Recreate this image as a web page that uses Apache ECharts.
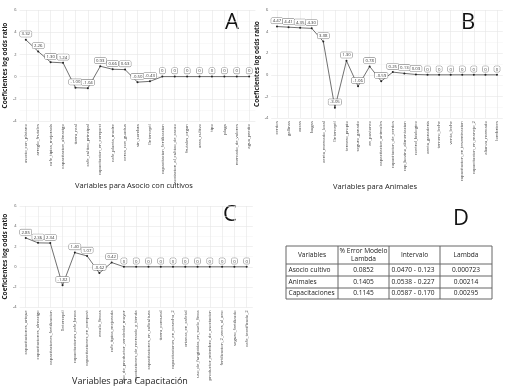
<!DOCTYPE html>
<html>
<head>
<meta charset="utf-8">
<script src="https://cdn.jsdelivr.net/npm/echarts@6/dist/echarts.min.js"></script>
<style>
html, body { margin: 0; padding: 0; background: #fff; }
#main { width: 511px; height: 386px; }
</style>
</head>
<body>
<div id="main"></div>
<script>
// A - asocio con cultivos
const catsA = ['asocio_con_platano', 'arreglo_frutales', 'cafe_tipica_mejorada', 'capacitacion_almacigo',
  'tierra_real', 'cafe_cultivo_principal', 'capacitacion_en_compost', 'cafe_planta_madre', 'cerca_con_guadua',
  'sin_sombra', '(Intercept)', 'capacitacion_fertilizacion', 'asociacion_al_cultivo_de_cacao', 'frutales_organ',
  'area_cultivo', 'tipo', 'plaga', 'mercado_de_valores', 'agua_predio'];
const valsA = [3.32, 2.26, 1.30, 1.24, -1.00, -1.04, 0.93, 0.66, 0.63, -0.50, -0.43, 0, 0, 0, 0, 0, 0, 0, 0];

// B - animales
const catsB = ['cerdos', 'gallinas', 'vacas', 'bagas', 'venta_mercado_local', '(Intercept)', 'ternero_propio',
  'seguro_ganado', 'en_pastoreo', 'capacitacion_animales', 'capacitacion_de_cerdos', 'cap_bovino_alimentacion',
  'control_biologico', 'venta_ganaderia', 'ternero_leche', 'venta_leche', 'capacitacion_en_inseminacion',
  'capacitacion_en_manejo_2', 'alianza_mercado', 'lombrices'];
const valsB = [4.47, 4.41, 4.35, 4.30, 3.08, -3.05, 1.30, -1.06, 0.78, -0.59, 0.25, 0.13, 0.03, 0, 0, 0, 0, 0, 0, 0];

// C - capacitacion
const catsC = ['capacitaciones_arique', 'capacitaciones_almacigo', 'capacitaciones_fertilizacion', '(Intercept)',
  'capacitaciones_cafe_broca', 'capacitaciones_en_compost', 'encalo_fincas', 'cafe_tipica_mejorada',
  'tipo_de_productor_vendedor_mayor', 'asociaciones_de_mercado_y_tienda', 'capacitaciones_en_caficultura',
  'tierra_comunal', 'capacitaciones_en_cosecha_2', 'crianza_en_cafetal', 'uso_de_fungicidas_en_suelo_finca',
  'productor_miembro_de_asociacion', 'fertilizacion_2_veces_al_ano', 'seguro_fertilizado', 'cafe_tecnificado_2'];
const valsC = [2.85, 2.36, 2.34, -1.82, 1.4, 1.07, -0.62, 0.42, 0, 0, 0, 0, 0, 0, 0, 0, 0, 0, 0];

const yTicks = [-4, 6];
const titles = ['Variables para Asocio con cultivos', 'Variables para Animales', 'Variables para Capacitación'];
const yName = 'Coeficientes log odds ratio';

// D - tabla
const tableHeader = ['Variables', '% Error Modelo\nLambda', 'Intervalo', 'Lambda'];
const tableVars = ['Asocio cultivo', 'Animales', 'Capacitaciones'];
const tableError = ['0.0852', '0.1405', '0.1145'];
const tableInterval = ['0.0470 - 0.123', '0.0538 - 0.227', '0.0587 - 0.170'];
const tableLambda = ['0.000723', '0.00214', '0.00295'];

const FONT = 'Open Sans';
const chart = echarts.init(document.getElementById('main'));

function xAx(idx, cats) {
  return {
    type: 'category', gridIndex: idx, data: cats, boundaryGap: true,
    axisLine: { show: false }, axisTick: { show: false },
    axisLabel: { rotate: 90, fontSize: 4.3, color: '#444', margin: 3, interval: 0, fontFamily: FONT },
    splitLine: { show: true, alignWithLabel: true, lineStyle: { color: '#e6e6e6', width: 0.6 } }
  };
}
function yAx(idx, gap) {
  return {
    type: 'value', gridIndex: idx, min: yTicks[0], max: yTicks[1], interval: 2,
    name: yName, nameLocation: 'middle', nameGap: gap, nameRotate: 90,
    nameTextStyle: { fontSize: 6.5, color: '#222', fontFamily: FONT, fontWeight: 'bold' },
    axisLine: { show: false }, axisTick: { show: false },
    axisLabel: { fontSize: 4, color: '#555', margin: 3, fontFamily: FONT },
    splitLine: { show: true, lineStyle: { color: '#e6e6e6', width: 0.6 } },
    minorTick: { show: false, splitNumber: 2 },
    minorSplitLine: { show: true, lineStyle: { color: '#f2f2f2', width: 0.5 } }
  };
}
function ser(idx, vals) {
  return {
    type: 'line', xAxisIndex: idx, yAxisIndex: idx, data: vals,
    symbol: 'circle', symbolSize: 2, itemStyle: { color: '#222' },
    lineStyle: { color: '#333', width: 0.7 }, animation: false,
    label: {
      show: true, position: 'top', distance: 2,
      formatter: p => (p.value === 0 ? '0' : p.value.toFixed(2)),
      fontSize: 4.3, color: '#333', fontFamily: FONT,
      backgroundColor: '#fff', borderColor: '#555', borderWidth: 0.4,
      borderRadius: 1, padding: [1, 1.5, 0.5, 1.5]
    }
  };
}

// table layout
const colX = [286, 338, 389, 440, 492];
const rowY = [246, 264, 276, 288, 299];
const tbl = [];
tbl.push({ type: 'rect', shape: { x: colX[0], y: rowY[0], width: colX[4] - colX[0], height: rowY[4] - rowY[0] },
  style: { fill: 'none', stroke: '#666', lineWidth: 1 } });
colX.slice(1, 4).forEach(x => tbl.push({ type: 'line', shape: { x1: x, y1: rowY[0], x2: x, y2: rowY[4] },
  style: { stroke: '#666', lineWidth: 1 } }));
rowY.slice(1, 4).forEach(y => tbl.push({ type: 'line', shape: { x1: colX[0], y1: y, x2: colX[4], y2: y },
  style: { stroke: '#666', lineWidth: 1 } }));
function cell(txt, c, r, align) {
  const x = align === 'left' ? colX[c] + 2.5 : (colX[c] + colX[c + 1]) / 2;
  tbl.push({ type: 'text', x: x, y: (rowY[r] + rowY[r + 1]) / 2,
    style: { text: txt, fontSize: 6.6, fontFamily: FONT, fill: '#222', align: align, verticalAlign: 'middle', lineHeight: 7.5 } });
}
tableHeader.forEach((h, i) => cell(h, i, 0, 'center'));
tableVars.forEach((v, i) => {
  cell(v, 0, i + 1, 'left');
  cell(tableError[i], 1, i + 1, 'center');
  cell(tableInterval[i], 2, i + 1, 'left');
  cell(tableLambda[i], 3, i + 1, 'center');
});

const letter = (t, x, y) => ({ type: 'text', x: x, y: y,
  style: { text: t, fontSize: 22, fontFamily: FONT, fill: '#111', align: 'center', verticalAlign: 'middle' } });
const ttl = (t, x, y, fs) => ({ type: 'text', x: x, y: y,
  style: { text: t, fontSize: fs, fontFamily: FONT, fill: '#222', align: 'center', verticalAlign: 'middle' } });

chart.setOption({
  animation: false,
  grid: [
    { left: 19.6, width: 235.8, top: 10, height: 111 },
    { left: 271.2, width: 231.6, top: 10, height: 108 },
    { left: 19.6, width: 233.2, top: 206, height: 101.3 }
  ],
  xAxis: [xAx(0, catsA), xAx(1, catsB), xAx(2, catsC)],
  yAxis: [yAx(0, 8), yAx(1, 7), yAx(2, 8)],
  series: [ser(0, valsA), ser(1, valsB), ser(2, valsC)],
  graphic: [
    letter('A', 232, 23), letter('B', 468, 23), letter('C', 230, 215), letter('D', 461, 219),
    ttl(titles[0], 134, 186, 7.5), ttl(titles[1], 375, 187, 7.5), ttl(titles[2], 130, 381, 9)
  ].concat(tbl)
});
</script>
</body>
</html>
